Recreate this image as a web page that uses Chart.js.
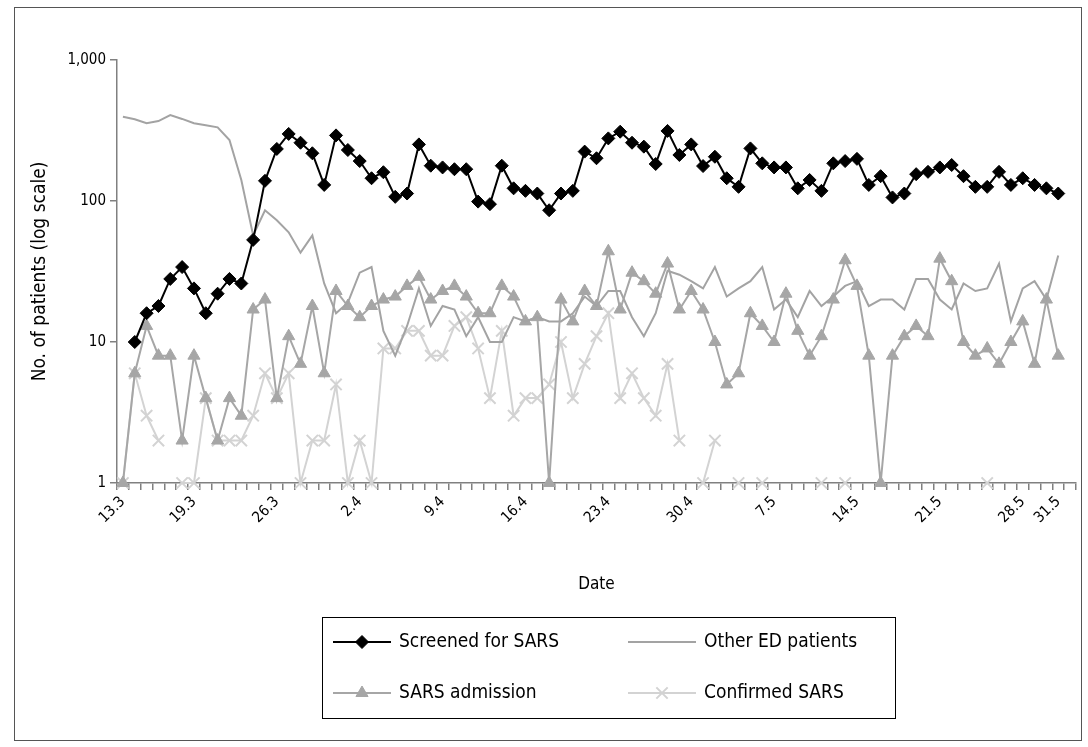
<!DOCTYPE html>
<html>
<head>
<meta charset="utf-8">
<script src="https://cdn.jsdelivr.net/npm/chart.js@4.4.0/dist/chart.umd.min.js"></script>
<style>
  html, body { margin: 0; padding: 0; background: #fff; }
</style>
</head>
<body>
<canvas id="chart" width="1088" height="747"></canvas>
<script>
// categories (day.month), last one is an empty slot at the end of the axis
const dates = [
  '13.3','14.3','15.3','16.3','17.3','18.3','19.3','20.3','21.3','22.3','23.3','24.3','25.3','26.3','27.3','28.3','29.3','30.3','31.3',
  '1.4','2.4','3.4','4.4','5.4','6.4','7.4','8.4','9.4','10.4','11.4','12.4','13.4','14.4','15.4','16.4','17.4','18.4','19.4','20.4',
  '21.4','22.4','23.4','24.4','25.4','26.4','27.4','28.4','29.4','30.4',
  '1.5','2.5','3.5','4.5','5.5','6.5','7.5','8.5','9.5','10.5','11.5','12.5','13.5','14.5','15.5','16.5','17.5','18.5','19.5','20.5',
  '21.5','22.5','23.5','24.5','25.5','26.5','27.5','28.5','29.5','30.5','31.5',
  '1.6'
];
const tickLabels = ['13.3','19.3','26.3','2.4','9.4','16.4','23.4','30.4','7.5','14.5','21.5','28.5','31.5'];
const yTicks = [1, 10, 100, 1000];

const screened = [
  null,10,16,18,28,34,24,16,22,28,
  26,53,139,234,299,259,218,130,292,230,
  192,145,160,107,113,252,178,173,168,168,
  99,95,178,123,118,113,86,113,118,224,
  201,278,310,259,243,183,314,212,252,177,
  206,145,126,236,185,173,173,123,141,118,
  185,192,199,130,150,106,113,155,161,173,
  180,150,126,126,161,130,145,130,123,113,
  null
];
const otherED = [
  396,380,356,369,407,382,356,344,333,271,
  141,57,86,73,60,43,57,26,16,19,
  31,34,12,8,13,24,13,18,17,11,
  15,10,10,15,14,15,14,14,16,21,
  18,23,23,15,11,16,32,30,27,24,
  34,21,24,27,34,17,20,15,23,18,
  21,25,27,18,20,20,17,28,28,20,
  17,26,23,24,36,14,24,27,20,41,
  null
];
const sarsAdmission = [
  1,6,13,8,8,2,8,4,2,4,
  3,17,20,4,11,7,18,6,23,18,
  15,18,20,21,25,29,20,23,25,21,
  16,16,25,21,14,15,1,20,14,23,
  18,44,17,31,27,22,36,17,23,17,
  10,5,6,16,13,10,22,12,8,11,
  20,38,25,8,1,8,11,13,11,39,
  27,10,8,9,7,10,14,7,20,8,
  null
];
const confirmedSars = [
  1,6,3,2,null,1,1,4,2,2,
  2,3,6,4,6,1,2,2,5,1,
  2,1,9,9,12,12,8,8,13,15,
  9,4,12,3,4,4,5,10,4,7,
  11,16,4,6,4,3,7,2,null,1,
  2,null,1,null,1,null,null,null,null,1,
  null,1,null,null,null,null,null,null,null,null,
  null,null,null,1,null,null,null,null,null,null,
  null
];

const FONT = "'Liberation Sans Narrow', 'DejaVu Sans Condensed', 'Liberation Sans', sans-serif";
Chart.defaults.font.family = FONT;
Chart.defaults.color = '#000';
const axisGrey = '#808080';

// outer frame + boxed legend in two columns
const frameAndLegend = {
  id: 'frameAndLegend',
  beforeDraw(chart) {
    const ctx = chart.ctx;
    ctx.save();
    ctx.fillStyle = '#fff';
    ctx.fillRect(0, 0, chart.width, chart.height);
    ctx.strokeStyle = '#555';
    ctx.lineWidth = 1;
    ctx.strokeRect(14.5, 7.5, 1067, 733);
    ctx.restore();
  },
  afterDraw(chart) {
    const ctx = chart.ctx;
    ctx.save();
    ctx.strokeStyle = '#000';
    ctx.lineWidth = 1;
    ctx.strokeRect(322.5, 617.5, 573, 101);
    const slots = [[333, 642, 58], [628, 642, 68], [333, 693, 58], [628, 693, 68]];
    chart.data.datasets.forEach((ds, i) => {
      const [x0, y, w] = slots[i];
      ctx.strokeStyle = ds.borderColor;
      ctx.lineWidth = ds.borderWidth;
      ctx.beginPath();
      ctx.moveTo(x0, y);
      ctx.lineTo(x0 + w, y);
      ctx.stroke();
      if (ds.pointRadius > 0) {
        ctx.fillStyle = ds.pointBackgroundColor;
        ctx.strokeStyle = ds.pointBorderColor;
        ctx.lineWidth = ds.pointBorderWidth;
        Chart.helpers.drawPoint(ctx, {
          pointStyle: ds.pointStyle, radius: ds.pointRadius,
          borderWidth: ds.pointBorderWidth, rotation: 0
        }, x0 + w / 2, y);
      }
      ctx.fillStyle = '#000';
      ctx.font = '19px ' + FONT;
      ctx.textBaseline = 'middle';
      ctx.textAlign = 'left';
      ctx.fillText(ds.label, x0 + w + 8, y);
    });
    ctx.restore();
  }
};

new Chart(document.getElementById('chart').getContext('2d'), {
  type: 'line',
  data: {
    labels: dates,
    datasets: [
      {
        label: 'Screened for SARS',
        data: screened,
        borderColor: '#000', borderWidth: 2,
        pointStyle: 'rectRot', pointRadius: 6.5,
        pointBackgroundColor: '#000', pointBorderColor: '#000', pointBorderWidth: 1
      },
      {
        label: 'Other ED patients',
        data: otherED,
        borderColor: '#a3a3a3', borderWidth: 2,
        pointRadius: 0
      },
      {
        label: 'SARS admission',
        data: sarsAdmission,
        borderColor: '#a6a6a6', borderWidth: 2,
        pointStyle: 'triangle', pointRadius: 7,
        pointBackgroundColor: '#a6a6a6', pointBorderColor: '#a6a6a6', pointBorderWidth: 1
      },
      {
        label: 'Confirmed SARS',
        data: confirmedSars,
        borderColor: '#d3d3d3', borderWidth: 2,
        pointStyle: 'crossRot', pointRadius: 8,
        pointBackgroundColor: '#d3d3d3', pointBorderColor: '#d3d3d3', pointBorderWidth: 2
      }
    ]
  },
  options: {
    responsive: false,
    devicePixelRatio: 1,
    animation: false,
    spanGaps: false,
    elements: { line: { tension: 0 } },
    datasets: { line: { clip: false } },
    layout: { padding: { left: 0, right: 12, top: 60, bottom: 0 } },
    plugins: {
      legend: { display: false },
      tooltip: { enabled: false }
    },
    scales: {
      x: {
        type: 'category',
        offset: true,
        grid: { offset: true, drawOnChartArea: false, drawTicks: true, tickLength: 7, color: axisGrey, lineWidth: 1.5 },
        border: { display: true, color: axisGrey, width: 1.5 },
        ticks: {
          autoSkip: false, minRotation: 45, maxRotation: 45, padding: 3,
          font: { size: 15 },
          callback: function (value, index) {
            const l = dates[index];
            return tickLabels.includes(l) ? l : '';
          }
        },
        title: { display: true, text: 'Date', font: { size: 17 }, padding: { top: 0, bottom: 152 } },
        afterFit: function (scale) { scale.height = 264; }
      },
      y: {
        type: 'logarithmic',
        min: 1,
        max: 1000,
        afterBuildTicks: function (scale) { scale.ticks = yTicks.map(v => ({ value: v })); },
        grid: { drawOnChartArea: false, drawTicks: true, tickLength: 7, color: axisGrey, lineWidth: 1.5 },
        border: { display: true, color: axisGrey, width: 1.5 },
        ticks: {
          padding: 4,
          font: { size: 15 },
          callback: function (value) { return Number(value).toLocaleString('en-US'); }
        },
        title: { display: true, text: 'No. of patients (log scale)', font: { size: 19 }, padding: { top: 29, bottom: 0 } },
        afterFit: function (scale) { scale.width = 117; }
      }
    }
  },
  plugins: [frameAndLegend]
});
</script>
</body>
</html>
